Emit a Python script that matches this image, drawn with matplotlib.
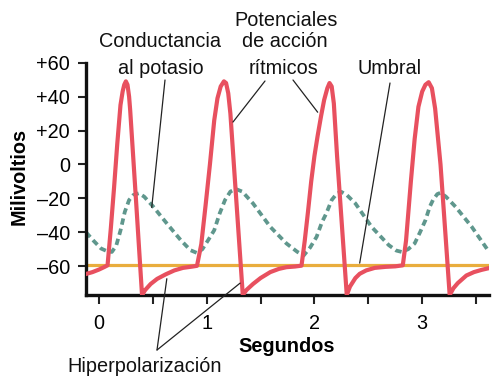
import matplotlib
matplotlib.use('Agg')
import matplotlib.pyplot as plt

plt.rcParams['font.family'] = ['Liberation Sans', 'DejaVu Sans']

# potencial de membrana (rojo)
red_t = [-0.12, -0.06, 0.00, 0.05, 0.08,
         0.11, 0.14, 0.17, 0.20, 0.22, 0.235, 0.25, 0.265, 0.28, 0.29, 0.345, 0.40,
         0.43, 0.48, 0.54, 0.62, 0.70, 0.78, 0.86, 0.91,
         0.95, 0.99, 1.03, 1.07, 1.10, 1.13, 1.16, 1.18, 1.20, 1.22, 1.25, 1.335,
         1.37, 1.43, 1.50, 1.59, 1.67, 1.74, 1.82, 1.88,
         1.91, 1.94, 1.97, 2.00, 2.03, 2.06, 2.09, 2.12, 2.14, 2.16, 2.18, 2.21, 2.30,
         2.33, 2.38, 2.42, 2.48, 2.56, 2.66, 2.75, 2.82,
         2.85, 2.895, 2.93, 2.965, 3.00, 3.03, 3.06, 3.09, 3.12, 3.17, 3.22, 3.255,
         3.29, 3.33, 3.41, 3.48, 3.55, 3.63]
red_mv = [-64.6, -63.5, -62.0, -60.5, -59.5,
          -38, -14, 12, 35, 43, 47, 49, 47, 40, 32, -22, -77,
          -74, -70.5, -67.5, -64.8, -62.5, -61, -60.3, -59.8,
          -47, -24, 0, 26, 39, 46, 49, 48, 42, 30, 2, -77,
          -74, -70.5, -67, -63.5, -61.6, -60.6, -60.2, -59.7,
          -45, -28, -10, 5, 17, 28, 38, 45, 48, 46, 36, 5, -77,
          -72, -67, -64.5, -62.5, -61, -60.4, -60.1, -59.5,
          -45, -10, 15, 34, 43, 47, 48.5, 45, 33, 0, -45, -77,
          -73, -70, -65.5, -63.5, -62.2, -61]

# conductancia al potasio (discontinua)
k_t = [-0.12, -0.05, 0.02, 0.08, 0.12, 0.16, 0.20, 0.24, 0.28, 0.32, 0.37, 0.42, 0.50, 0.63, 0.76, 0.85, 0.91,
       0.96, 1.02, 1.07, 1.12, 1.17, 1.22, 1.27, 1.33, 1.43, 1.59, 1.74, 1.84, 1.90,
       1.96, 2.02, 2.07, 2.11, 2.16, 2.21, 2.25, 2.30, 2.38, 2.53, 2.69, 2.76, 2.81,
       2.87, 2.93, 2.98, 3.03, 3.07, 3.10, 3.14, 3.17, 3.22, 3.31, 3.46, 3.61]
k_mv = [-40, -45, -49.6, -51.3, -51.6, -48, -39, -28, -21, -18, -17, -19, -24.6, -34.8, -44.7, -50.6, -52.2,
        -50, -44, -38.8, -29, -21, -16, -14.5, -16, -23, -36.8, -46.6, -51.5, -53.7,
        -49, -42.7, -34, -28.9, -21, -17, -16.2, -18, -23, -36.8, -47.6, -50.8, -51.6,
        -50, -46.6, -40, -32.9, -25, -21, -17.5, -16.7, -19, -25, -36.8, -50.6]

threshold = -59.5

yticks = [60, 40, 20, 0, -20, -40, -60]
ylabels = ['+60', '+40', '+20', '0', '\u201320', '\u201340', '\u201360']
xticks = [0, 1, 2, 3]
xlabels = ['0', '1', '2', '3']
xminor = [0.5, 1.5, 2.5, 3.5]

W, H = 493, 383
fs = 14.3

fig = plt.figure(figsize=(W/100, H/100), dpi=100)
ax = fig.add_axes([86/W, 1-295/H, (489-86)/W, (295-62.7)/H])

ax.axhline(threshold, color='#e9ad3d', lw=2.3, zorder=1)
ax.plot(k_t, k_mv, color='#5f978d', lw=2.7, dashes=(1.7, 1.1), zorder=2)
ax.plot(red_t, red_mv, color='#e8505f', lw=3.0, solid_joinstyle='round', zorder=3)

ax.set_xlim(-0.12, 3.62)
ax.set_ylim(-77, 60)

for s in ['top', 'right']:
    ax.spines[s].set_visible(False)
for s in ['left', 'bottom']:
    ax.spines[s].set_linewidth(2.4)
    ax.spines[s].set_color('#111111')

ax.set_yticks(yticks)
ax.set_yticklabels(ylabels)
ax.set_xticks(xticks)
ax.set_xticklabels(xlabels)
ax.set_xticks(xminor, minor=True)
ax.tick_params(axis='y', direction='out', length=6, width=1.5, pad=5.5, labelsize=fs, color='#222222')
ax.tick_params(axis='x', which='both', direction='out', length=6.5, width=1.5, pad=7, labelsize=fs, color='#222222')

# rotulos de los ejes
fig.text(19/W, 1-176/H, 'Milivoltios', rotation=90, ha='center', va='center', fontsize=fs, fontweight='bold')
fig.text(287/W, 1-351.7/H, 'Segundos', ha='center', va='baseline', fontsize=fs, fontweight='bold')

# textos de las flechas
def lab(x, y, s):
    fig.text(x/W, 1-y/H, s, ha='center', va='baseline', fontsize=fs, color='#111111')

lab(286, 26, 'Potenciales')
lab(160, 46.7, 'Conductancia')
lab(285, 46.7, 'de acci\u00f3n')
lab(161, 74, 'al potasio')
lab(283, 74, 'r\u00edtmicos')
lab(390, 74, 'Umbral')
lab(145, 371.7, 'Hiperpolarizaci\u00f3n')

def line(xy, px, py):
    ax.annotate('', xy=xy, xycoords='data', xytext=(px, H-py), textcoords='figure pixels',
                arrowprops=dict(arrowstyle='-', color='#222222', lw=0.9, shrinkA=0, shrinkB=0),
                annotation_clip=False)

line((0.49, -25.4), 165, 80)
line((1.244, 25), 265, 81)
line((2.03, 30.8), 293, 80)
line((2.42, -58.2), 390, 83)
line((0.63, -67.4), 157, 350)
line((1.31, -70), 157, 350)

fig.savefig('out.png', dpi=100)
plt.close()
